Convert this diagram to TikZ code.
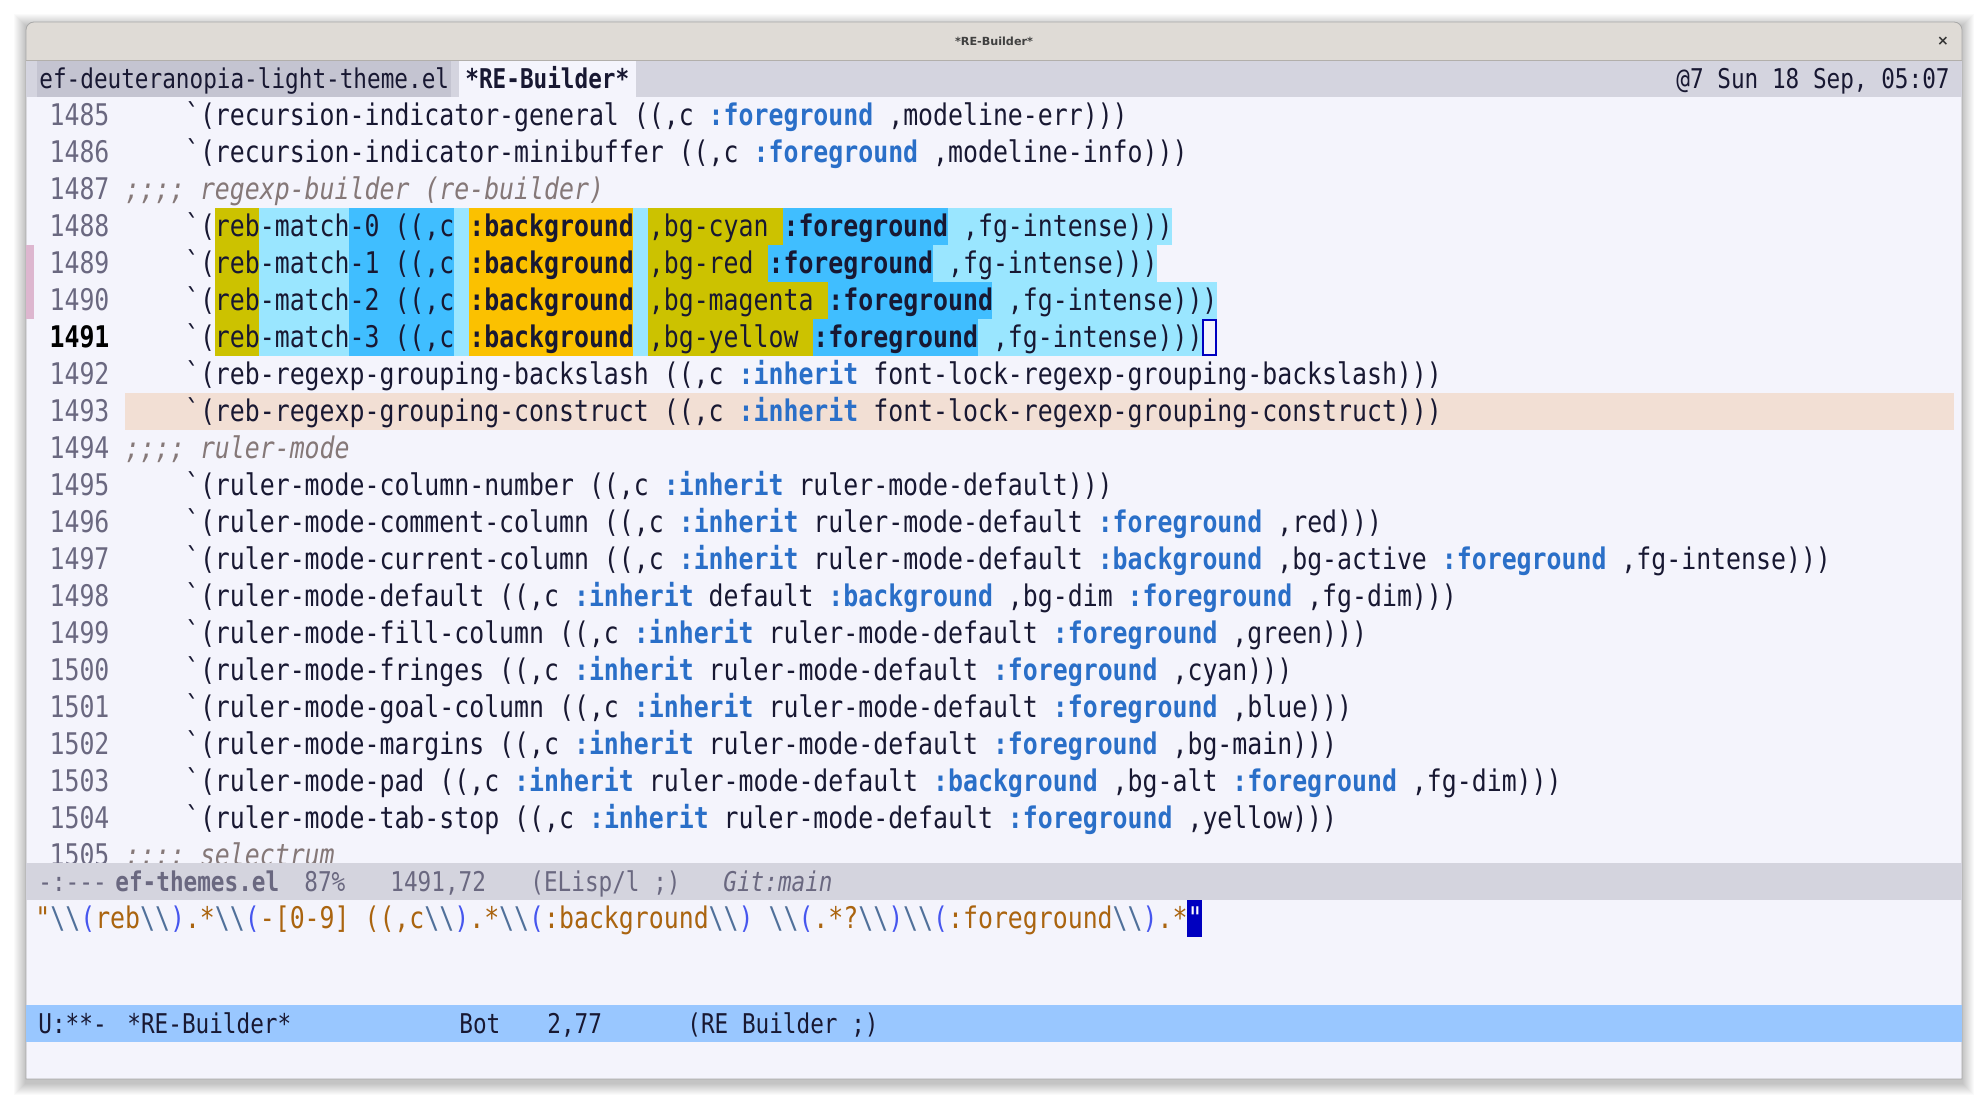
\documentclass[tikz,border=0pt]{standalone}
\usepackage{fontspec}
\setmonofont[FakeStretch=0.834]{DejaVu Sans Mono}
\newfontfamily\ttlfont{DejaVu Sans}
\definecolor{bgmain}{HTML}{F4F4FC}
\definecolor{titlebg}{HTML}{DFDBD6}
\definecolor{tabbg}{HTML}{D4D4DF}
\definecolor{tabinact}{HTML}{C4C4D1}
\definecolor{mlinact}{HTML}{D4D4DE}
\definecolor{mlact}{HTML}{99C7FF}
\definecolor{fgmain}{HTML}{181832}
\definecolor{fgdim}{HTML}{6A6880}
\definecolor{kwblue}{HTML}{2A6FC8}
\definecolor{comcol}{HTML}{857878}
\definecolor{hlline}{HTML}{F2DFD4}
\definecolor{mzero}{HTML}{9AE6FF}
\definecolor{mone}{HTML}{CCC200}
\definecolor{mtwo}{HTML}{40BEFF}
\definecolor{mthree}{HTML}{FBC100}
\definecolor{curcol}{HTML}{0000C0}
\definecolor{strcol}{HTML}{AA640F}
\definecolor{bscol}{HTML}{50709A}
\definecolor{parcol}{HTML}{4656EE}
\definecolor{diffpink}{HTML}{DDB6CF}
\definecolor{winedge}{HTML}{A9A9A9}
\newcommand\kw[1]{\textcolor{kwblue}{\textbf{#1}}}
\newcommand\kb[1]{\textbf{#1}}
\newcommand\rbs{\textcolor{bscol}{\textbackslash\textbackslash}}
\newcommand\rp[1]{\textcolor{parcol}{#1}}
\tikzset{
  codefont/.style={font=\ttfamily\fontsize{14.9}{18}\selectfont},
  barfont/.style={font=\ttfamily\fontsize{13.6}{16}\selectfont},
  code/.style={codefont, anchor=base west, inner sep=0pt, text=fgmain},
  comment/.style={code, font=\ttfamily\fontsize{14.9}{18}\selectfont\itshape, text=comcol},
  lnum/.style={codefont, anchor=base east, inner sep=0pt, text=fgdim},
  lnumcur/.style={lnum, font=\ttfamily\fontsize{14.9}{18}\selectfont\bfseries, text=black},
  bartext/.style={barfont, anchor=base west, inner sep=0pt, text=fgmain},
  mltext/.style={bartext, text=fgdim},
}
\begin{document}
\begin{tikzpicture}[x=0.5pt,y=-0.5pt]
    \def\xc{124.8}
    \def\cw{14.96}
    \def\yt{97}
    \def\dy{37}
    \pgfmathsetmacro\xi{\xc+4*\cw}
    \useasboundingbox (0,0) rectangle (1988,1108);
    \fill[white] (0,0) rectangle (1988,1108);
    % window shadow
    \foreach \s in {1,...,12}
    \fill[black,opacity=0.018] ({26-\s},{22-\s+4}) rectangle ({1962+\s},{1079+\s+4});
    % frame
    \fill[bgmain] (26,60) rectangle (1962,1079);
    \fill[titlebg] (26,60) [rounded corners=4pt] -- (26,22) -- (1962,22) [sharp corners] -- (1962,60) -- cycle;
    \draw[winedge,line width=0.4pt] (26,1079) -- (26,60) [rounded corners=4pt] -- (26,22) -- (1962,22) [sharp corners] -- (1962,1079) -- cycle;
    \node[font=\ttlfont\bfseries\fontsize{5.6}{7}\selectfont, text=black!75] (title) at (994,41) {*RE-Builder*};
    \node[font=\ttlfont\bfseries\fontsize{7}{8}\selectfont, text=black!80] (close) at (1943,41) {×};
    % tab bar
    \fill[tabbg] (26,60) rectangle (1962,97);
    \fill[tabinact] (37,60) rectangle (451,97);
    \fill[bgmain] (459,60) rectangle (636,97);
    \node[bartext] (tab1) at (39,88.5) {ef-deuteranopia-light-theme.el};
    \node[bartext, font=\ttfamily\fontsize{13.6}{16}\selectfont\bfseries] (tab2) at (465,88.5) {*RE-Builder*};
    \node[bartext, anchor=base east] (clock) at (1950,88.5) {@7 Sun 18 Sep, 05:07};
    % fringe, hl-line, matches
    \fill[diffpink] (26,245) rectangle (34,319);
    \fill[hlline] (\xc,393) rectangle (1954,430);
    \foreach \k/\a/\b/\c in {3/6/70/mzero,4/6/69/mzero,5/6/73/mzero,6/6/72/mzero,
      3/35/44/mone,3/44/55/mtwo,4/35/43/mone,4/43/54/mtwo,
      5/35/47/mone,5/47/58/mtwo,6/35/46/mone,6/46/57/mtwo}
    \fill[\c] ({\xc+\a*\cw},{\yt+\dy*\k}) rectangle ({\xc+\b*\cw},{\yt+\dy*(\k+1)});
    \foreach \k in {3,...,6}{
      \fill[mone] ({\xc+6*\cw},{\yt+\dy*\k}) rectangle ({\xc+9*\cw},{\yt+\dy*(\k+1)});
      \fill[mtwo] ({\xc+15*\cw},{\yt+\dy*\k}) rectangle ({\xc+22*\cw},{\yt+\dy*(\k+1)});
      \fill[mthree] ({\xc+23*\cw},{\yt+\dy*\k}) rectangle ({\xc+34*\cw},{\yt+\dy*(\k+1)});
    }
    \draw[curcol,line width=1pt] ({\xc+72*\cw+1},{\yt+\dy*6+1}) rectangle ({\xc+73*\cw-1},{\yt+\dy*7-1});
    % line numbers
    \foreach \i in {0,...,20}{
      \pgfmathtruncatemacro\num{1485+\i}
      \ifnum\num=1491 \def\lnst{lnumcur}\else\def\lnst{lnum}\fi
      \node[\lnst] (n\num) at ({\xc-\cw},{125+\dy*\i}) {\num};
    }
    % code
    \node[code] (l1485) at (\xi,125) {`(recursion-indicator-general ((,c \kw{:foreground} ,modeline-err)))};
    \node[code] (l1486) at (\xi,162) {`(recursion-indicator-minibuffer ((,c \kw{:foreground} ,modeline-info)))};
    \node[comment] (l1487) at (\xc,199) {;;;; regexp-builder (re-builder)};
    \node[code] (l1488) at (\xi,236) {`(reb-match-0 ((,c \kb{:background} ,bg-cyan \kb{:foreground} ,fg-intense)))};
    \node[code] (l1489) at (\xi,273) {`(reb-match-1 ((,c \kb{:background} ,bg-red \kb{:foreground} ,fg-intense)))};
    \node[code] (l1490) at (\xi,310) {`(reb-match-2 ((,c \kb{:background} ,bg-magenta \kb{:foreground} ,fg-intense)))};
    \node[code] (l1491) at (\xi,347) {`(reb-match-3 ((,c \kb{:background} ,bg-yellow \kb{:foreground} ,fg-intense)))};
    \node[code] (l1492) at (\xi,384) {`(reb-regexp-grouping-backslash ((,c \kw{:inherit} font-lock-regexp-grouping-backslash)))};
    \node[code] (l1493) at (\xi,421) {`(reb-regexp-grouping-construct ((,c \kw{:inherit} font-lock-regexp-grouping-construct)))};
    \node[comment] (l1494) at (\xc,458) {;;;; ruler-mode};
    \node[code] (l1495) at (\xi,495) {`(ruler-mode-column-number ((,c \kw{:inherit} ruler-mode-default)))};
    \node[code] (l1496) at (\xi,532) {`(ruler-mode-comment-column ((,c \kw{:inherit} ruler-mode-default \kw{:foreground} ,red)))};
    \node[code] (l1497) at (\xi,569) {`(ruler-mode-current-column ((,c \kw{:inherit} ruler-mode-default \kw{:background} ,bg-active \kw{:foreground} ,fg-intense)))};
    \node[code] (l1498) at (\xi,606) {`(ruler-mode-default ((,c \kw{:inherit} default \kw{:background} ,bg-dim \kw{:foreground} ,fg-dim)))};
    \node[code] (l1499) at (\xi,643) {`(ruler-mode-fill-column ((,c \kw{:inherit} ruler-mode-default \kw{:foreground} ,green)))};
    \node[code] (l1500) at (\xi,680) {`(ruler-mode-fringes ((,c \kw{:inherit} ruler-mode-default \kw{:foreground} ,cyan)))};
    \node[code] (l1501) at (\xi,717) {`(ruler-mode-goal-column ((,c \kw{:inherit} ruler-mode-default \kw{:foreground} ,blue)))};
    \node[code] (l1502) at (\xi,754) {`(ruler-mode-margins ((,c \kw{:inherit} ruler-mode-default \kw{:foreground} ,bg-main)))};
    \node[code] (l1503) at (\xi,791) {`(ruler-mode-pad ((,c \kw{:inherit} ruler-mode-default \kw{:background} ,bg-alt \kw{:foreground} ,fg-dim)))};
    \node[code] (l1504) at (\xi,828) {`(ruler-mode-tab-stop ((,c \kw{:inherit} ruler-mode-default \kw{:foreground} ,yellow)))};
    \node[comment] (l1505) at (\xc,865) {;;;; selectrum};
    % mode line of ef-themes.el
    \fill[mlinact] (26,863) rectangle (1962,900);
    \node[mltext] (ml1) at (38,891.5) {-:---};
    \node[mltext, font=\ttfamily\fontsize{13.6}{16}\selectfont\bfseries] (ml2) at (115,891.5) {ef-themes.el};
    \node[mltext] (ml3) at (304,891.5) {87\%};
    \node[mltext] (ml4) at (390,891.5) {1491,72};
    \node[mltext] (ml5) at (530,891.5) {(ELisp/l ;)};
    \node[mltext, font=\ttfamily\fontsize{13.6}{16}\selectfont\itshape] (ml6) at (723,891.5) {Git:main};
    % RE-Builder buffer
    \fill[curcol] ({35+77*\cw},900) rectangle ({35+78*\cw},937);
    \node[code, text=strcol] (regexp) at (35,928) {"\rbs\rp{(}reb\rbs\rp{)}.*\rbs\rp{(}-[0-9] ((,c\rbs\rp{)}.*\rbs\rp{(}:background\rbs\rp{)} \rbs\rp{(}.*?\rbs\rp{)}\rbs\rp{(}:foreground\rbs\rp{)}.*\textcolor{white}{"}};
    % mode line of *RE-Builder*
    \fill[mlact] (26,1005) rectangle (1962,1042);
    \node[bartext] (rb1) at (38,1033.5) {U:**-};
    \node[bartext] (rb2) at (127,1033.5) {*RE-Builder*};
    \node[bartext] (rb3) at (459,1033.5) {Bot};
    \node[bartext] (rb4) at (547,1033.5) {2,77};
    \node[bartext] (rb5) at (687,1033.5) {(RE Builder ;)};
    \draw[titlebg!80!black,line width=0.3pt] (26,60) -- (1962,60);
\end{tikzpicture}
\end{document}
